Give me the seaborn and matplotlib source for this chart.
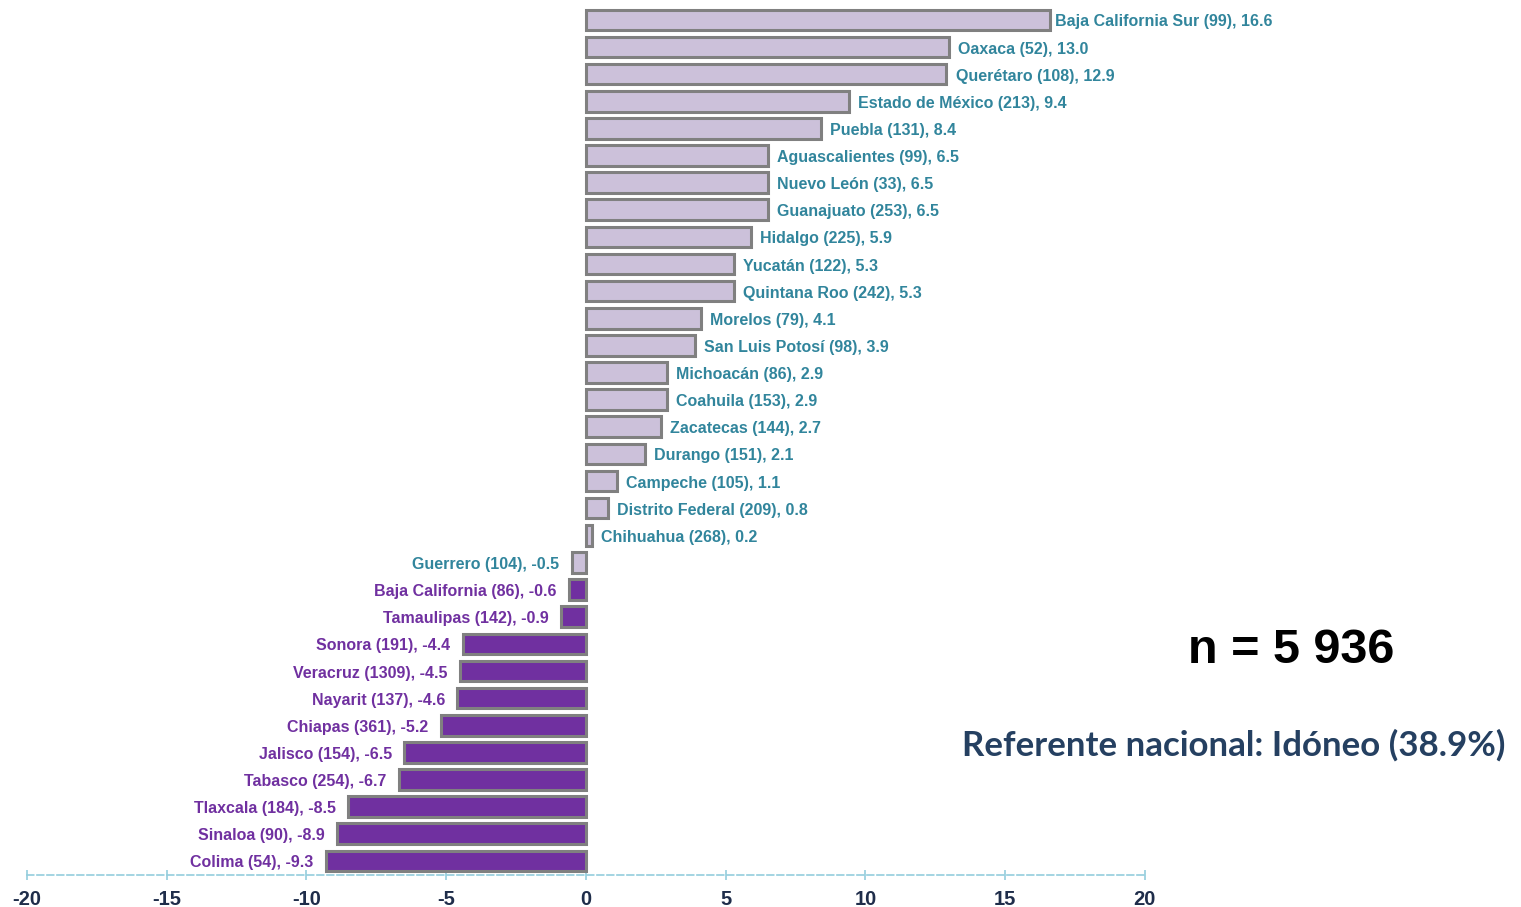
import pandas as pd
import seaborn as sns
import matplotlib.pyplot as plt

estados = ["Baja California Sur", "Oaxaca", "Querétaro", "Estado de México", "Puebla",
           "Aguascalientes", "Nuevo León", "Guanajuato", "Hidalgo", "Yucatán",
           "Quintana Roo", "Morelos", "San Luis Potosí", "Michoacán", "Coahuila",
           "Zacatecas", "Durango", "Campeche", "Distrito Federal", "Chihuahua",
           "Guerrero", "Baja California", "Tamaulipas", "Sonora", "Veracruz",
           "Nayarit", "Chiapas", "Jalisco", "Tabasco", "Tlaxcala", "Sinaloa", "Colima"]
n_casos = [99, 52, 108, 213, 131, 99, 33, 253, 225, 122, 242, 79, 98, 86, 153,
           144, 151, 105, 209, 268, 104, 86, 142, 191, 1309, 137, 361, 154, 254,
           184, 90, 54]
diferencia = [16.6, 13.0, 12.9, 9.4, 8.4, 6.5, 6.5, 6.5, 5.9, 5.3, 5.3, 4.1, 3.9,
              2.9, 2.9, 2.7, 2.1, 1.1, 0.8, 0.2, -0.5, -0.6, -0.9, -4.4, -4.5,
              -4.6, -5.2, -6.5, -6.7, -8.5, -8.9, -9.3]
grupo = ["arriba"] * 21 + ["abajo"] * 11
xticks = [-20, -15, -10, -5, 0, 5, 10, 15, 20]

relleno = {"arriba": "#CCC1DA", "abajo": "#7030A0"}
color_txt = {"arriba": "#31859C", "abajo": "#7030A0"}

df = pd.DataFrame({"estado": estados, "n": n_casos, "valor": diferencia, "grupo": grupo})

sns.set_style("white")
plt.rcParams["font.family"] = ["Liberation Sans", "DejaVu Sans"]

fig = plt.figure(figsize=(15.21, 9.07), dpi=100)
ax = fig.add_axes([0.01775, 0.0353, 0.735, 0.9608])

sns.barplot(data=df, x="valor", y="estado", hue="grupo", palette=relleno,
            dodge=False, width=0.76, edgecolor="#808080", linewidth=2.2,
            saturation=1, legend=False, orient="h", ax=ax)

for i, row in df.iterrows():
    etiqueta = "{} ({}), {:.1f}".format(row["estado"], row["n"], row["valor"])
    if row["valor"] >= 0:
        # la barra mas larga lleva la etiqueta mas pegada
        dx = 3.5 if i == 0 else 6.5
        ax.annotate(etiqueta, (row["valor"], i), xytext=(dx, -1.5), textcoords="offset points",
                    ha="left", va="center", fontsize=11.5, fontweight="bold",
                    color=color_txt[row["grupo"]])
    else:
        ax.annotate(etiqueta, (row["valor"], i), xytext=(-9, -1.5), textcoords="offset points",
                    ha="right", va="center", fontsize=11.5, fontweight="bold",
                    color=color_txt[row["grupo"]])

ax.set_xlim(-20, 20)
ax.set_ylim(31.52, -0.6)
ax.set_xticks(xticks)
ax.set_xticklabels([str(t) for t in xticks], fontsize=14.5, fontweight="bold", color="#1F2D4A")
ax.set_yticks([])
ax.set_xlabel("")
ax.set_ylabel("")
for s in ["top", "right", "left"]:
    ax.spines[s].set_visible(False)
ax.spines["bottom"].set_color("#93CDDD")
ax.spines["bottom"].set_linestyle((0, (4, 2)))
ax.spines["bottom"].set_linewidth(1.2)
ax.tick_params(axis="x", bottom=True, direction="inout", length=7, width=1.2,
               color="#93CDDD", pad=7)

fig.text(0.849, 0.283, "n = 5 936", ha="center", va="center", fontsize=35,
         fontweight="bold", color="black")
fig.text(0.99, 0.178, "Referente nacional: Idóneo (38.9%)", ha="right", va="center",
         fontsize=25.1, fontweight="bold", color="#254061", family=["Lato", "DejaVu Sans"])

fig.savefig("out.png", dpi=100)
